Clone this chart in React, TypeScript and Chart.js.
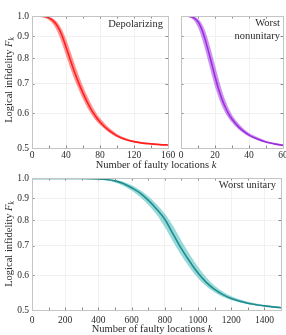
import React, { useEffect, useRef } from 'react';
import { Chart, registerables } from 'chart.js';

Chart.register(...registerables);

// ---------- data ----------
const yTicks = [0.5, 0.6, 0.7, 0.8, 0.9, 1.0];

const depolXTicks = [0, 40, 80, 120, 160];
const depolTickMarks = [20, 40, 60, 80, 100, 120, 140];
const depolK = [0, 10, 15, 20, 25, 30, 35, 40, 45, 50, 55, 60, 65, 70, 75, 80, 90, 100, 110, 120, 130, 140, 150, 160];
const depolMid = [1.0, 0.999, 0.997, 0.99, 0.975, 0.948, 0.905, 0.85, 0.795, 0.745, 0.703, 0.667, 0.636, 0.61, 0.59, 0.573, 0.549, 0.533, 0.523, 0.517, 0.513, 0.511, 0.509, 0.508];
const depolHi = [1.0, 1.0, 0.9985, 0.9945, 0.984, 0.9645, 0.9305, 0.883, 0.828, 0.775, 0.7285, 0.689, 0.655, 0.626, 0.602, 0.5835, 0.5565, 0.5375, 0.526, 0.5185, 0.5145, 0.512, 0.51, 0.5085];
const depolLo = [1.0, 0.9975, 0.9925, 0.981, 0.9585, 0.9225, 0.872, 0.817, 0.765, 0.7195, 0.6813, 0.648, 0.62, 0.598, 0.5795, 0.5655, 0.5445, 0.53, 0.5215, 0.5155, 0.512, 0.5103, 0.509, 0.5073];

const nonuXTicks = [0, 20, 40, 60];
const nonuTickMarks = [10, 20, 30, 40, 50];
const nonuK = [0, 4, 6, 8, 10, 12, 14, 16, 18, 20, 22, 24, 26, 28, 30, 33, 36, 40, 45, 50, 55, 60];
const nonuMid = [1.0, 0.999, 0.996, 0.988, 0.97, 0.937, 0.89, 0.835, 0.78, 0.728, 0.683, 0.648, 0.62, 0.598, 0.582, 0.563, 0.549, 0.535, 0.524, 0.516, 0.511, 0.507];
const nonuHi = [1.0, 1.0, 0.998, 0.994, 0.9835, 0.962, 0.925, 0.876, 0.821, 0.767, 0.717, 0.674, 0.641, 0.6145, 0.594, 0.5728, 0.5558, 0.5403, 0.5285, 0.5183, 0.5125, 0.5085];
const nonuLo = [0.9996, 0.9968, 0.99, 0.9745, 0.9453, 0.9018, 0.8488, 0.7938, 0.741, 0.6943, 0.6568, 0.627, 0.6035, 0.586, 0.5723, 0.5563, 0.5438, 0.532, 0.5218, 0.5145, 0.5095, 0.5063];

const unitXTicks = [0, 200, 400, 600, 800, 1000, 1200, 1400];
const unitTickMarks = [100, 200, 300, 400, 500, 600, 700, 800, 900, 1000, 1100, 1200, 1300, 1400];
const unitK = [0, 100, 200, 300, 400, 450, 500, 550, 600, 650, 700, 750, 800, 850, 900, 950, 1000, 1050, 1100, 1150, 1200, 1300, 1400, 1500];
const unitMid = [0.997, 0.997, 0.997, 0.997, 0.995, 0.992, 0.985, 0.972, 0.95, 0.925, 0.89, 0.85, 0.805, 0.745, 0.69, 0.645, 0.607, 0.578, 0.557, 0.542, 0.531, 0.518, 0.511, 0.506];
const unitHi = [0.997, 0.997, 0.997, 0.997, 0.9955, 0.9935, 0.9885, 0.9785, 0.961, 0.9375, 0.9075, 0.87, 0.8275, 0.775, 0.7175, 0.6675, 0.626, 0.5925, 0.5675, 0.5495, 0.5365, 0.5213, 0.5128, 0.5073];
const unitLo = [0.9965, 0.9965, 0.9965, 0.996, 0.9935, 0.9885, 0.9785, 0.961, 0.9375, 0.9075, 0.87, 0.8275, 0.775, 0.7175, 0.6675, 0.626, 0.5925, 0.5675, 0.5495, 0.5365, 0.5278, 0.5163, 0.5098, 0.505];

// ---------- helpers ----------
const FONT = "'Liberation Serif', 'DejaVu Serif', serif";
const TEXT = '#2a2a2a';

const pts = (xs: number[], ys: number[]) => xs.map((x, i) => ({ x, y: ys[i] }));

const framePlugin = {
  id: 'frame',
  afterDraw(chart: any, _args: any, opts: any) {
    const { ctx, chartArea: a, scales } = chart;
    ctx.save();
    // inward tick marks
    ctx.strokeStyle = '#8a8a8a';
    ctx.lineWidth = 1;
    ctx.beginPath();
    (opts.marks || []).forEach((v: number) => {
      const x = Math.round(scales.x.getPixelForValue(v)) + 0.5;
      ctx.moveTo(x, a.bottom);
      ctx.lineTo(x, a.bottom - 2.5);
      ctx.moveTo(x, a.top);
      ctx.lineTo(x, a.top + 2.5);
    });
    yTicks.forEach((v) => {
      const y = Math.round(scales.y.getPixelForValue(v)) + 0.5;
      ctx.moveTo(a.left, y);
      ctx.lineTo(a.left + 2.5, y);
      ctx.moveTo(a.right, y);
      ctx.lineTo(a.right - 2.5, y);
    });
    ctx.stroke();
    ctx.strokeStyle = '#c4c4c4';
    ctx.strokeRect(Math.round(a.left) + 0.5, Math.round(a.top) + 0.5, Math.round(a.right - a.left), Math.round(a.bottom - a.top));
    ctx.restore();
  },
};

interface Cfg {
  k: number[]; mid: number[]; hi: number[]; lo: number[];
  xMax: number; xTicks: number[]; marks: number[];
  line: string; band: string;
  padding: { left: number; right: number; top: number; bottom: number };
  yWidth: number; xHeight: number; showY: boolean; xPad: number;
}

function makeConfig(c: Cfg): any {
  return {
    type: 'line',
    data: {
      datasets: [
        { data: pts(c.k, c.mid), borderColor: c.line, borderWidth: 1.6, pointRadius: 0, fill: false, cubicInterpolationMode: 'monotone' },
        { data: pts(c.k, c.hi), borderColor: c.band, borderWidth: 0.5, backgroundColor: c.band, pointRadius: 0, fill: '+1', cubicInterpolationMode: 'monotone' },
        { data: pts(c.k, c.lo), borderColor: c.band, borderWidth: 0.5, pointRadius: 0, fill: false, cubicInterpolationMode: 'monotone' },
      ],
    },
    options: {
      animation: false,
      responsive: false,
      maintainAspectRatio: false,
      events: [],
      layout: { padding: c.padding },
      plugins: { legend: { display: false }, tooltip: { enabled: false }, title: { display: false }, frame: { marks: c.marks } },
      scales: {
        x: {
          type: 'linear',
          min: 0,
          max: c.xMax,
          afterBuildTicks: (s: any) => { s.ticks = c.xTicks.map((v) => ({ value: v })); },
          afterFit: (s: any) => { s.height = c.xHeight; s.paddingLeft = 0; s.paddingRight = 0; },
          grid: { color: '#f1f1f1', lineWidth: 1, drawTicks: false },
          border: { display: false },
          ticks: { color: TEXT, font: { family: FONT, size: 9.5 }, padding: c.xPad, maxRotation: 0, autoSkip: false, callback: (v: any) => String(v) },
        },
        y: {
          type: 'logarithmic',
          min: 0.5,
          max: 1.0,
          afterBuildTicks: (s: any) => { s.ticks = yTicks.map((v) => ({ value: v })); },
          afterFit: (s: any) => { s.width = c.yWidth; s.paddingTop = 0; s.paddingBottom = 0; },
          grid: { color: '#f1f1f1', lineWidth: 1, drawTicks: false },
          border: { display: false },
          ticks: { display: c.showY, color: TEXT, font: { family: FONT, size: 9.5 }, padding: 3, autoSkip: false, callback: (v: any) => Number(v).toFixed(1) },
        },
      },
    },
    plugins: [framePlugin],
  };
}

function ChartBox(props: { left: number; top: number; width: number; height: number; cfg: Cfg }) {
  const ref = useRef<HTMLCanvasElement | null>(null);
  useEffect(() => {
    if (!ref.current) return;
    const chart = new Chart(ref.current, makeConfig(props.cfg));
    return () => chart.destroy();
  }, []);
  return (
    <canvas
      ref={ref}
      width={props.width}
      height={props.height}
      style={{ position: 'absolute', left: props.left, top: props.top, width: props.width, height: props.height }}
    />
  );
}

const txt = (extra: React.CSSProperties): React.CSSProperties => ({
  position: 'absolute',
  fontFamily: FONT,
  color: TEXT,
  whiteSpace: 'nowrap',
  ...extra,
});

function YTitle({ x, y }: { x: number; y: number }) {
  return (
    <div style={txt({ left: x, top: y, fontSize: 10.5, lineHeight: '12px', transform: 'translate(-50%, -50%) rotate(-90deg)' })}>
      Logical infidelity <i>F</i><sub style={{ fontSize: 7.5, fontStyle: 'italic', verticalAlign: '-2px' }}>k</sub>
    </div>
  );
}

function XTitle({ x, y }: { x: number; y: number }) {
  return (
    <div style={txt({ left: x, top: y, fontSize: 10.5, lineHeight: '12px', transform: 'translate(-50%, -50%)' })}>
      Number of faulty locations <i>k</i>
    </div>
  );
}

export default function App() {
  const depol: Cfg = {
    k: depolK, mid: depolMid, hi: depolHi, lo: depolLo, xMax: 160, xTicks: depolXTicks, marks: depolTickMarks,
    line: '#ff1f1f', band: 'rgba(255, 50, 50, 0.5)',
    padding: { left: 0, right: 8, top: 16, bottom: 0 }, yWidth: 32, xHeight: 22, showY: true, xPad: 2,
  };
  const nonu: Cfg = {
    k: nonuK, mid: nonuMid, hi: nonuHi, lo: nonuLo, xMax: 60, xTicks: nonuXTicks, marks: nonuTickMarks,
    line: '#9d2ee0', band: 'rgba(165, 65, 225, 0.55)',
    padding: { left: 6, right: 3, top: 16, bottom: 0 }, yWidth: 0, xHeight: 22, showY: false, xPad: 2,
  };
  const unit: Cfg = {
    k: unitK, mid: unitMid, hi: unitHi, lo: unitLo, xMax: 1500, xTicks: unitXTicks, marks: unitTickMarks,
    line: '#1f8c8d', band: 'rgba(85, 192, 192, 0.6)',
    padding: { left: 0, right: 5, top: 8, bottom: 0 }, yWidth: 32, xHeight: 25, showY: true, xPad: 5,
  };

  return (
    <div style={{ position: 'absolute', left: 0, top: 0, width: 286, height: 335, overflow: 'hidden', background: '#fff' }}>
      <ChartBox left={0} top={0} width={176} height={170} cfg={depol} />
      <ChartBox left={175} top={0} width={111} height={170} cfg={nonu} />
      <ChartBox left={0} top={170} width={286} height={165} cfg={unit} />

      <div style={txt({ right: 286 - 163, top: 18, fontSize: 10.5, lineHeight: '12px' })}>Depolarizing</div>
      <div style={txt({ right: 286 - 280, top: 17, fontSize: 10.5, lineHeight: '12.7px', textAlign: 'right' })}>
        Worst<br />nonunitary
      </div>
      <div style={txt({ right: 286 - 276, top: 179, fontSize: 10.5, lineHeight: '12px' })}>Worst unitary</div>

      <YTitle x={10} y={80} />
      <XTitle x={156} y={165} />
      <YTitle x={10} y={244} />
      <XTitle x={152} y={329} />
    </div>
  );
}
